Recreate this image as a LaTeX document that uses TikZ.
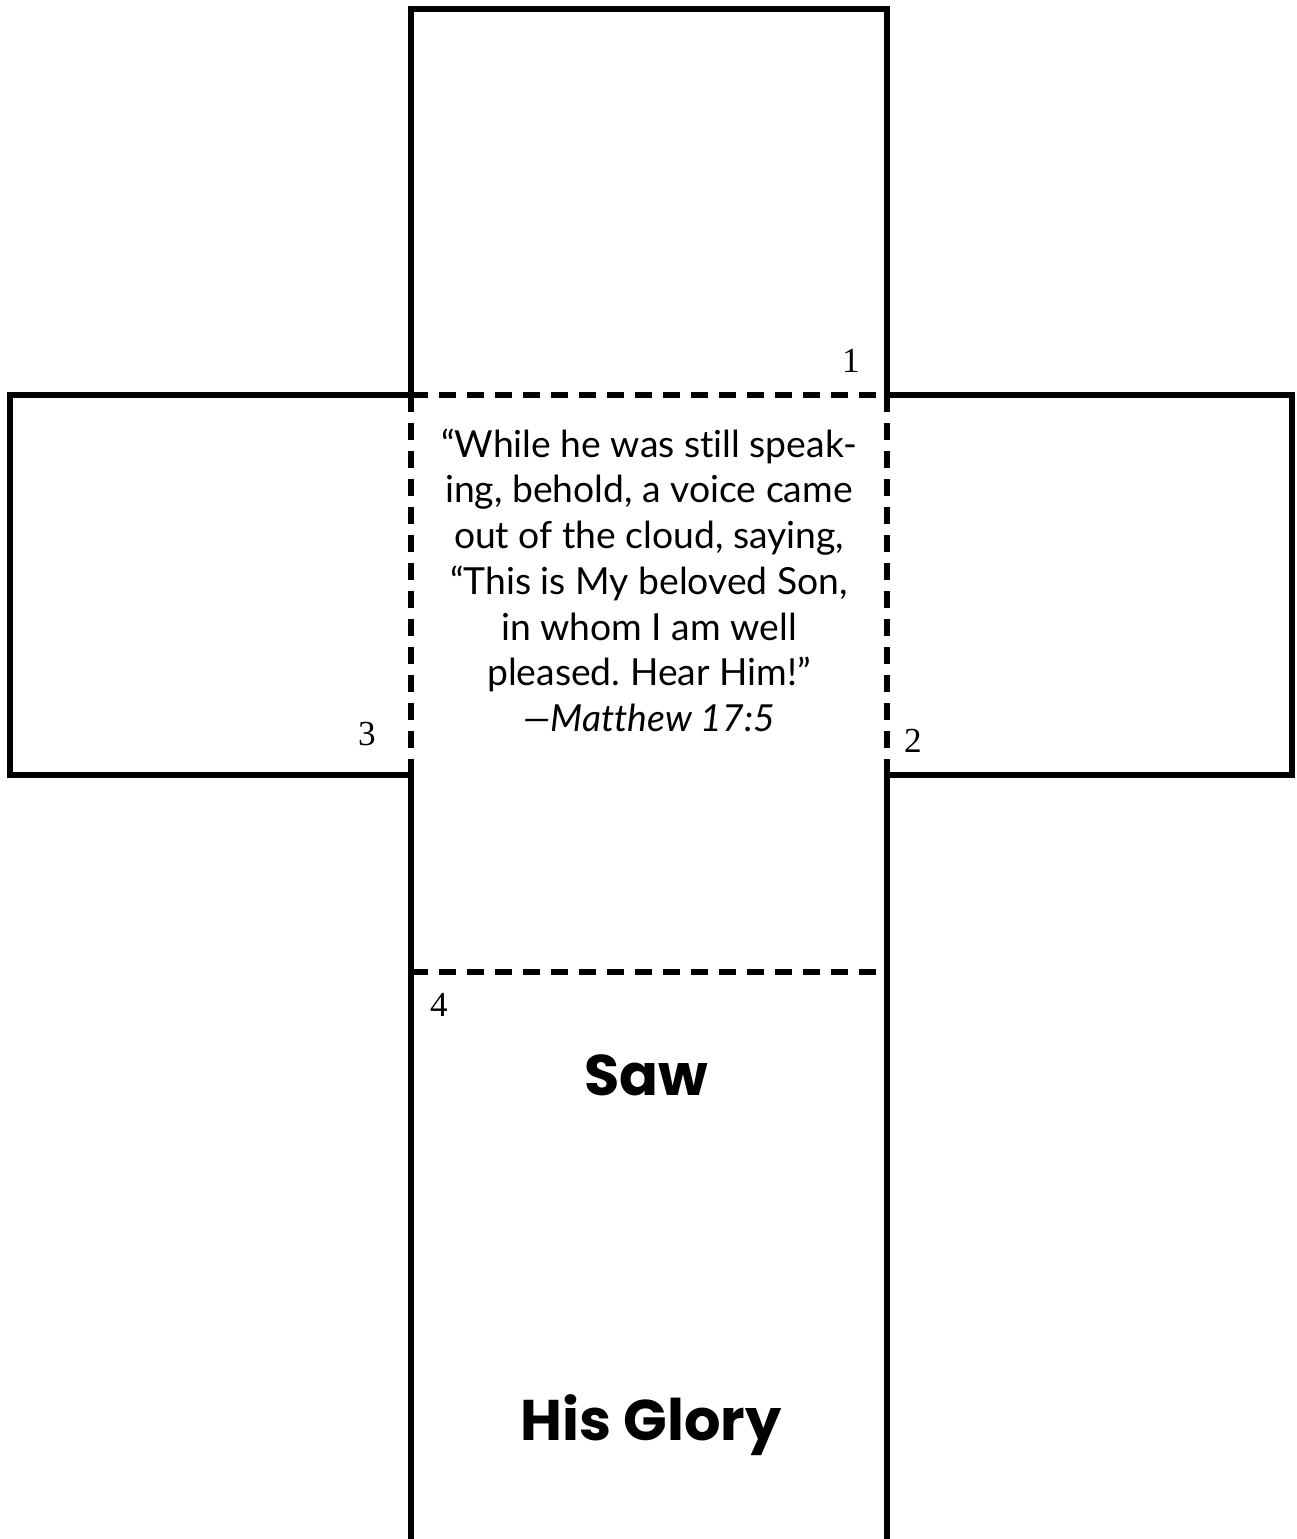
\documentclass[tikz,border=0pt]{standalone}
\usepackage{fontspec}
\usepackage{tikz}
\usetikzlibrary{positioning}
\newfontfamily\versefont{Lato}[Ligatures=NoCommon]
\newfontfamily\headfont{Poppins}
\newfontfamily\numfont{Liberation Serif}
\frenchspacing

\begin{document}
\begin{tikzpicture}[x=0.01cm, y=-0.01cm,
    every node/.style={inner sep=0pt},
    cut/.style={line width=1.45pt, line join=miter},
    fold/.style={line width=1.45pt, dash pattern=on 0.17cm off 0.11cm},
    facenum/.style={font=\numfont\fontsize{10}{12}\selectfont},
    title/.style={font=\headfont\bfseries\fontsize{16.3}{19}\selectfont}]
  \useasboundingbox (0,0) rectangle (1297,1539);

  % corners of the centre square
  \coordinate (tl) at (411,395);
  \coordinate (tr) at (887,395);
  \coordinate (bl) at (411,775);
  \coordinate (br) at (887,775);

  % outline (cut lines)
  \draw[cut] (tl) -- (411,9) -- (887,9) -- (tr);
  \draw[cut] (tr) -- (1292,395) -- (1292,775) -- (br) -- (887,1539);
  \draw[cut] (411,1539) -- (bl) -- (10,775) -- (10,395) -- (tl);

  % fold lines
  \draw[fold] (tl) -- (tr);
  \draw[fold] (tl) -- (bl);
  \draw[fold] (tr) -- (br);
  \coordinate (fl) at (411,972);
  \coordinate (fr) at (887,972);
  \draw[fold] (fl) -- (fr);

  % verse
  \node[align=center, anchor=north, font=\versefont\fontsize{10.6}{13}\selectfont]
    (verse) at (649,428) {%
    “While he was still speak-\\
    ing, behold, a voice came\\
    out of the cloud, saying,\\
    “This is My beloved Son,\\
    in whom I am well\\
    pleased. Hear Him!”\\
    \itshape —Matthew 17:5};

  % face numbers
  \node[facenum] (n1) at (851,361) {1};
  \node[facenum] (n2) at (913,741) {2};
  \node[facenum] (n3) at (367,734) {3};
  \node[facenum] (n4) at (439,1005) {4};

  % titles
  \node[title] (saw) at (646,1075) {Saw};
  \node[title] (glory) at (651,1425) {His Glory};
\end{tikzpicture}
\end{document}
